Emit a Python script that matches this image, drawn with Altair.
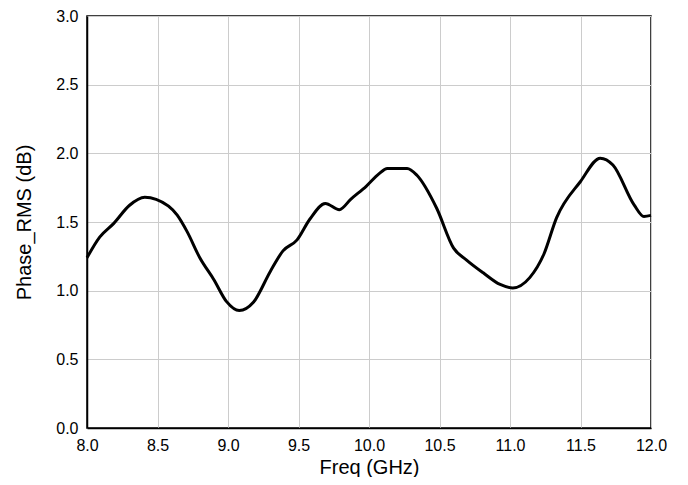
import altair as alt
import pandas as pd

freq = [8.0, 8.09, 8.19, 8.30, 8.41, 8.49, 8.64, 8.71, 8.80, 8.90, 8.99, 9.08,
        9.18, 9.30, 9.39, 9.49, 9.58, 9.69, 9.79, 9.87, 9.98, 10.07, 10.13,
        10.27, 10.34, 10.48, 10.60, 10.69, 10.81, 10.93, 11.02, 11.14, 11.24,
        11.33, 11.50, 11.64, 11.73, 11.88, 11.95, 12.0]
phase_rms = [1.24, 1.39, 1.49, 1.62, 1.68, 1.665, 1.55, 1.43, 1.24, 1.08, 0.92,
             0.855, 0.915, 1.14, 1.29, 1.37, 1.52, 1.635, 1.59, 1.665, 1.76,
             1.85, 1.89, 1.89, 1.84, 1.60, 1.31, 1.225, 1.13, 1.045, 1.02,
             1.095, 1.265, 1.53, 1.795, 1.965, 1.915, 1.625, 1.54, 1.548]

df = pd.DataFrame({"freq": freq, "val": phase_rms})

font = "Liberation Sans"

chart = alt.Chart(df).mark_line(
    color="black", strokeWidth=3, interpolate="monotone"
).encode(
    x=alt.X("freq:Q", title="Freq (GHz)",
            scale=alt.Scale(domain=[8, 12], nice=False, zero=False),
            axis=alt.Axis(values=[8.0, 8.5, 9.0, 9.5, 10.0, 10.5, 11.0, 11.5, 12.0],
                          format=".1f", titleY=45, titleBaseline="alphabetic")),
    y=alt.Y("val:Q", title="Phase_RMS (dB)",
            scale=alt.Scale(domain=[0, 3], nice=False),
            axis=alt.Axis(values=[0, 0.5, 1.0, 1.5, 2.0, 2.5, 3.0], format=".1f",
                          titleX=-57, titleBaseline="alphabetic")),
).properties(
    width=564, height=412,
    autosize=alt.AutoSizeParams(type="none"),
    padding={"left": 79, "top": 8, "right": 29, "bottom": 49},
).configure_view(
    stroke="black", strokeWidth=1.5
).configure_axis(
    labelFont=font, titleFont=font, labelFontSize=16, titleFontSize=20,
    labelColor="black", titleColor="black", titleFontWeight="normal",
    gridColor="#cccccc", gridWidth=1, domainColor="black", domainWidth=1.5,
    ticks=False, labelPadding=9, labelFlush=False, labelOverlap=False,
)

chart.save("out.html", embed_options={"renderer": "svg", "actions": False})
